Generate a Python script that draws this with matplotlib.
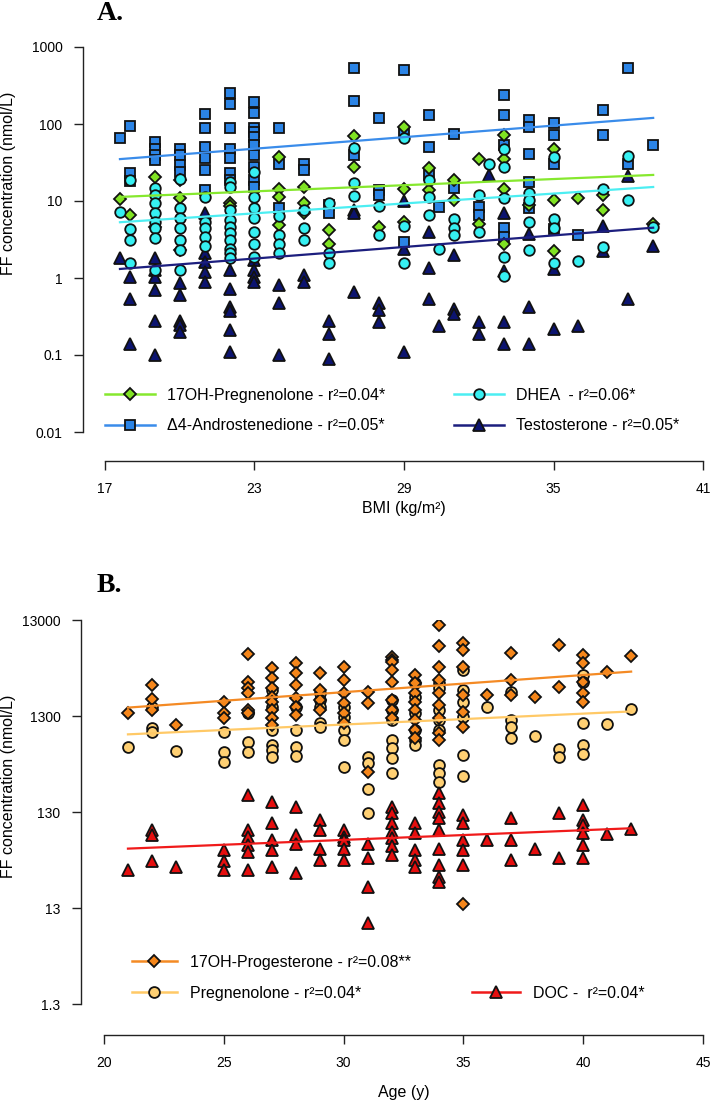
import matplotlib
matplotlib.use("Agg")
import matplotlib.pyplot as plt
from matplotlib.lines import Line2D
from matplotlib.ticker import NullLocator

plt.rcParams['font.family'] = ['Liberation Sans', 'DejaVu Sans']

# ---------------- Panel A data (BMI) ----------------
bmi_cols = [17.6, 18, 19, 20, 21, 22, 23, 24, 25, 26, 27, 28, 29, 30, 30.4,
            31, 32, 32.4, 33, 34, 35, 36, 37, 38, 39]

andro = [[66], [95, 23, 18], [59, 48, 40, 34], [48, 40, 29, 24],
         [135, 88, 51, 36, 25, 13.9], [255, 182, 88, 48, 36, 23, 18.7],
         [195, 138, 88, 79, 68, 53, 40, 28, 18.7, 15.4], [90, 30, 8], [30, 25],
         [8.9, 6.9], [528, 200, 40], [121, 13.9, 12], [504, 79, 2.9],
         [129, 50, 22], [8.4], [75, 14.8], [8.4, 6.5], [],
         [235, 129, 53, 4.4, 3.4], [113, 92, 41, 17.6, 8], [102, 71, 30, 4.3],
         [3.6], [150, 71], [535, 30], [54]]

preg17 = [[10.5], [6.6], [20.7, 4.6], [18.7, 10.8, 2.3], [], [9.3, 8.5], [],
          [37.6, 14.2, 11.4, 4.9], [15.4, 9.3, 6.9], [4.2, 2.8], [70.6, 28],
          [4.6], [92, 14.3, 5.3], [27, 14], [], [19, 10.4], [35, 5.1], [],
          [73, 35, 14.3, 2.8], [8.9], [47, 10.4, 2.25], [10.9], [12, 7.6], [],
          [5.1]]

dhea = [[7.3], [18.7, 4.3, 3.1, 1.55], [14.6, 12, 9.3, 6.9, 5.4, 4.4, 3.3, 1.27],
        [19.5, 8, 6, 4.4, 3.1, 2.3, 1.27], [11.4, 5.4, 4.4, 3.4, 2.6],
        [17.8, 15.4, 7.6, 5.7, 4.6, 3.8, 3.1, 2.4, 2.1, 1.8],
        [24, 11.4, 8, 6, 4, 2.8, 1.9], [6.3, 3.6, 2.8, 2.1], [7.6, 4.4, 3.1],
        [9.3, 2.1, 1.55], [49, 17.3, 11.6], [8.5, 3.6], [66, 4.8, 1.58],
        [19, 11.4, 6.5], [2.4], [5.9, 4.4, 3.6], [12, 3.9], [30],
        [48, 28, 10.9, 1.9, 1.05], [12.7, 10.4, 5.3, 2.3], [37, 5.9, 4.4, 1.58],
        [1.66], [14.3, 2.5], [38, 10.4], [4.6]]

testo = [[1.8], [1.04, 0.54, 0.14], [1.8, 1.27, 1.04, 0.7, 0.28, 0.1],
         [0.85, 0.6, 0.28, 0.245, 0.2], [6.9, 2.1, 1.6, 1.2, 0.9],
         [1.27, 0.73, 0.42, 0.37, 0.21, 0.11], [1.7, 1.27, 1.04, 0.9],
         [0.81, 0.47, 0.1], [1.1, 0.9], [0.28, 0.19, 0.09], [7.6, 6.9, 0.66],
         [0.47, 0.38, 0.27], [10, 2.4, 0.11], [3.9, 1.33, 0.53], [0.24],
         [2.0, 0.4, 0.34], [0.27, 0.19], [22], [7, 1.22, 0.27, 0.14],
         [3.7, 0.42, 0.14], [1.29, 0.22], [0.24], [4.7, 2.25], [21, 0.54], [2.6]]

fit_bmi = [17.6, 39]
andro_fit = [35, 120]
preg17_fit = [11.3, 21.8]
dhea_fit = [5.3, 15.2]
testo_fit = [1.31, 4.5]

a_yticks = [0.01, 0.1, 1, 10, 100, 1000]
a_yticklabels = ['0.01', '0.1', '1', '10', '100', '1000']
a_xticks = [17, 23, 29, 35, 41]

# ---------------- Panel B data (Age) ----------------
age_cols = [21, 22, 23, 25, 26, 27, 28, 29, 30, 31, 32, 33, 34, 35, 36, 37, 38,
            39, 40, 41, 42]

prog17 = [[1390], [2740, 1960, 1500], [1050], [1830, 1390, 1230],
          [5710, 2970, 2530, 2240, 1500, 1390],
          [4150, 3210, 2530, 2070, 1830, 1500, 1230, 1050],
          [4600, 3620, 2740, 1990, 1630, 1330], [3680, 2430, 1910, 1500],
          [4250, 3090, 2240, 1760, 1390, 1090], [2330, 1790, 342],
          [5400, 4980, 4790, 3920, 2970, 1910, 1500, 1230],
          [3480, 2850, 2240, 1830, 1500, 1180, 930, 762],
          [11500, 6970, 4250, 3090, 2240, 1690, 1230, 859, 732],
          [7430, 6340, 4250, 2150, 1440, 1010, 14.2], [2150], [5940, 3090, 2150],
          [2070], [7140, 2630], [5620, 4600, 2970, 2240, 1830], [3770], [5490]]

preg = [[624], [1630, 968, 893], [566], [893, 553, 435], [1440, 1390, 703, 553],
        [2430, 1630, 930, 649, 575, 491], [1630, 930, 624, 498],
        [2240, 1910, 1630, 1090, 1010], [1630, 1280, 930, 732, 386],
        [491, 418, 224, 126], [1910, 1500, 1180, 732, 599, 471, 329],
        [2850, 2070, 1390, 930, 732, 649],
        [2850, 2530, 1500, 1180, 930, 402, 329, 269],
        [3920, 2430, 1830, 1280, 511, 308], [1630], [2330, 1180, 1010, 762],
        [805], [585, 491], [3480, 2970, 1090, 649, 523], [1070], [1530]]

doc = [[32], [84.5, 75, 40], [35], [52, 40, 32], [196, 84.5, 72, 59, 50, 32],
       [167, 99, 66, 52, 35], [148, 75, 61, 30], [107, 84.5, 54, 41],
       [84.5, 72, 66, 54, 41], [61, 43, 21.7, 9.0],
       [148, 126, 99, 81, 69, 57, 46], [99, 78, 52, 41, 35],
       [204, 160, 131, 112, 84.5, 54, 36.5, 27.6, 24.5],
       [121, 99, 66, 52, 36.5], [66], [112, 66, 41], [54], [126, 43],
       [154, 107, 95, 78, 59, 43], [77], [86]]

fit_age = [21, 42]
prog17_fit = [1590, 3770]
preg_fit = [837, 1450]
doc_fit = [54, 88]

b_yticks = [1.3, 13, 130, 1300, 13000]
b_yticklabels = ['1.3', '13', '130', '1300', '13000']
b_xticks = [20, 25, 30, 35, 40, 45]

# ---------------- styling ----------------
W, H = 712, 1101
fig = plt.figure(figsize=(W / 100, H / 100), dpi=100)


def rect(x0, x1, ytop, ybot):
    return [x0 / W, 1 - ybot / H, (x1 - x0) / W, (ybot - ytop) / H]


def flatten(cols, groups):
    xs, ys = [], []
    for c, g in zip(cols, groups):
        for v in g:
            xs.append(c)
            ys.append(v)
    return xs, ys


def style(ax, xlim, xticks, ylim, yticks, ylabels, xout, yout):
    ax.set_yscale('log')
    ax.set_xlim(*xlim)
    ax.set_ylim(*ylim)
    ax.patch.set_visible(False)
    for s in ['top', 'right']:
        ax.spines[s].set_visible(False)
    ax.spines['left'].set_position(('outward', yout * 0.72))
    ax.spines['bottom'].set_position(('outward', xout * 0.72))
    for s in ['left', 'bottom']:
        ax.spines[s].set_linewidth(1.0)
        ax.spines[s].set_color('#222222')
    ax.set_xticks(xticks)
    ax.set_xticklabels([str(t) for t in xticks])
    ax.set_yticks(yticks)
    ax.set_yticklabels(ylabels)
    ax.yaxis.set_minor_locator(NullLocator())
    ax.tick_params(axis='both', length=6.3, width=1.0, color='#222222',
                   labelsize=10, direction='out')
    ax.tick_params(axis='y', pad=8.5)
    ax.tick_params(axis='x', pad=9)


EC = '#111111'
MEW = 1.3

# ---------------- Panel A ----------------
axA = fig.add_axes(rect(105, 703, 47, 432))
style(axA, (17, 41), a_xticks, (0.01, 1000), a_yticks, a_yticklabels, 29, 22)

cA = dict(dia=('#80E322', '#86E82E'), sq=('#2B84E6', '#3A8CEA'),
          cir=('#36F0F2', '#4CEEF2'), tri=('#0C1470', '#1C1E7E'))

x, y = flatten(bmi_cols, testo)
axA.plot(x, y, linestyle='none', marker='^', ms=8.2, mfc=cA['tri'][0], mec=EC, mew=MEW, zorder=3)
x, y = flatten(bmi_cols, andro)
axA.plot(x, y, linestyle='none', marker='s', ms=7.4, mfc=cA['sq'][0], mec=EC, mew=MEW, zorder=4)
x, y = flatten(bmi_cols, preg17)
axA.plot(x, y, linestyle='none', marker='D', ms=5.8, mfc=cA['dia'][0], mec=EC, mew=MEW, zorder=5)
x, y = flatten(bmi_cols, dhea)
axA.plot(x, y, linestyle='none', marker='o', ms=7.6, mfc=cA['cir'][0], mec=EC, mew=MEW, zorder=6)

axA.plot(fit_bmi, andro_fit, color=cA['sq'][1], lw=1.6, zorder=8)
axA.plot(fit_bmi, preg17_fit, color=cA['dia'][1], lw=1.6, zorder=8)
axA.plot(fit_bmi, dhea_fit, color=cA['cir'][1], lw=1.6, zorder=8)
axA.plot(fit_bmi, testo_fit, color=cA['tri'][1], lw=1.6, zorder=8)

axA.set_xlabel('BMI (kg/m²)', fontsize=11.5)
axA.xaxis.set_label_coords(0.5, (432 - 508) / (432 - 47))
axA.xaxis.label.set_va('center')

hA1 = [Line2D([], [], color=cA['dia'][1], lw=1.8, marker='D', ms=5.8, mfc=cA['dia'][0], mec=EC, mew=MEW),
       Line2D([], [], color=cA['sq'][1], lw=1.8, marker='s', ms=7.4, mfc=cA['sq'][0], mec=EC, mew=MEW)]
lA1 = ['17OH-Pregnenolone - r²=0.04*', 'Δ4-Androstenedione - r²=0.05*']
hA2 = [Line2D([], [], color=cA['cir'][1], lw=1.8, marker='o', ms=7.6, mfc=cA['cir'][0], mec=EC, mew=MEW),
       Line2D([], [], color=cA['tri'][1], lw=1.8, marker='^', ms=8.2, mfc=cA['tri'][0], mec=EC, mew=MEW)]
lA2 = ['DHEA  - r²=0.06*', 'Testosterone - r²=0.05*']

leg_kw = dict(frameon=False, borderpad=0, borderaxespad=0, fontsize=11.5,
              handletextpad=0.8, labelspacing=1.0, loc='center left')
legA1 = axA.legend(hA1, lA1, bbox_to_anchor=(105 / W, 1 - 410.5 / H),
                   bbox_transform=fig.transFigure, handlelength=3.1, **leg_kw)
axA.add_artist(legA1)
axA.legend(hA2, lA2, bbox_to_anchor=(454 / W, 1 - 410.5 / H),
           bbox_transform=fig.transFigure, handlelength=3.1, **leg_kw)

# ---------------- Panel B ----------------
axB = fig.add_axes(rect(104, 703, 620, 1004))
style(axB, (20, 45), b_xticks, (1.3, 13000), b_yticks, b_yticklabels, 31, 23)

cB = dict(dia=('#F5861A', '#F48A24'), cir=('#FFD073', '#FFC966'),
          tri=('#E60E0E', '#F01A1A'))

x, y = flatten(age_cols, preg)
axB.plot(x, y, linestyle='none', marker='o', ms=7.8, mfc=cB['cir'][0], mec=EC, mew=MEW, zorder=4)
x, y = flatten(age_cols, prog17)
axB.plot(x, y, linestyle='none', marker='D', ms=5.8, mfc=cB['dia'][0], mec=EC, mew=MEW, zorder=5)
x, y = flatten(age_cols, doc)
axB.plot(x, y, linestyle='none', marker='^', ms=8.4, mfc=cB['tri'][0], mec=EC, mew=MEW, zorder=6)

axB.plot(fit_age, prog17_fit, color=cB['dia'][1], lw=1.6, zorder=8)
axB.plot(fit_age, preg_fit, color=cB['cir'][1], lw=1.6, zorder=8)
axB.plot(fit_age, doc_fit, color=cB['tri'][1], lw=1.6, zorder=8)

axB.set_xlabel('Age (y)', fontsize=11.5)
axB.xaxis.set_label_coords(0.5, (1004 - 1092) / (1004 - 620))
axB.xaxis.label.set_va('center')

hB1 = [Line2D([], [], color=cB['dia'][1], lw=1.8, marker='D', ms=5.8, mfc=cB['dia'][0], mec=EC, mew=MEW),
       Line2D([], [], color=cB['cir'][1], lw=1.8, marker='o', ms=7.8, mfc=cB['cir'][0], mec=EC, mew=MEW)]
lB1 = ['17OH-Progesterone - r²=0.08**', 'Pregnenolone - r²=0.04*']
hB2 = [Line2D([], [], color=cB['tri'][1], lw=1.8, marker='^', ms=8.4, mfc=cB['tri'][0], mec=EC, mew=MEW)]
lB2 = ['DOC -  r²=0.04*']

legB1 = axB.legend(hB1, lB1, bbox_to_anchor=(132 / W, 1 - 978 / H),
                   bbox_transform=fig.transFigure, handlelength=2.8, **leg_kw)
axB.add_artist(legB1)
axB.legend(hB2, lB2, bbox_to_anchor=(472 / W, 1 - 993 / H),
           bbox_transform=fig.transFigure, handlelength=3.0, **leg_kw)

# ---------------- titles / y labels ----------------
fig.text(97 / W, 1 - 14 / H, 'A.', family=['Liberation Serif', 'DejaVu Serif'],
         fontweight='bold', fontsize=20, ha='left', va='center')
fig.text(97 / W, 1 - 585 / H, 'B.', family=['Liberation Serif', 'DejaVu Serif'],
         fontweight='bold', fontsize=20, ha='left', va='center')
fig.text(9 / W, 1 - 183 / H, 'FF concentration (nmol/L)', rotation=90,
         fontsize=11.5, ha='center', va='center')
fig.text(9 / W, 1 - 786 / H, 'FF concentration (nmol/L)', rotation=90,
         fontsize=11.5, ha='center', va='center')

fig.savefig('out.png', dpi=100)
